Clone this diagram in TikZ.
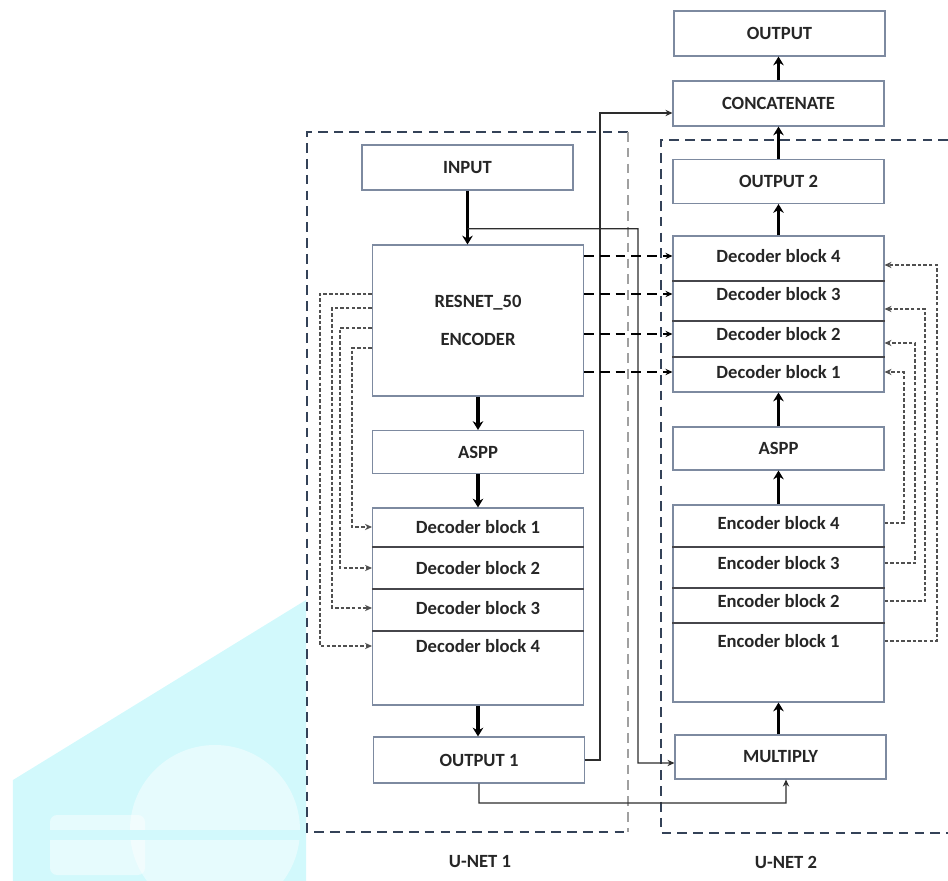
\documentclass[tikz,border=0pt]{standalone}
\usepackage{fontspec}
\setmainfont{Carlito}
\usetikzlibrary{arrows.meta, calc}

\definecolor{boxline}{RGB}{125,138,160}
\definecolor{divline}{RGB}{70,70,75}
\definecolor{txt}{RGB}{38,38,38}
\definecolor{routeline}{RGB}{45,45,45}
\definecolor{skipline}{RGB}{80,80,80}
\definecolor{frameline}{RGB}{52,66,88}
\definecolor{framelight}{RGB}{160,160,160}
\definecolor{wmark}{RGB}{210,249,252}

\begin{document}
\begin{tikzpicture}
            [>=Stealth, font=\fontsize{10.6}{12.7}\selectfont\bfseries,
             box/.style={rectangle, draw=boxline, line width=0.6pt, minimum width=4.22cm,
                         minimum height=0.9cm, inner sep=0pt, text=txt, align=center},
             lbl/.style={inner sep=0pt, text=txt},
             divider/.style={draw=divline, line width=0.8pt},
             thickarrow/.style={-{Stealth[length=5pt,width=6pt]}, line width=2.2pt, black},
             route/.style={draw=routeline, line width=0.7pt, -{Stealth[length=4pt,width=3.6pt]}},
             fwd/.style={draw=black, line width=0.8pt, dash pattern=on 5.5pt off 3.5pt,
                         -{Stealth[length=4pt,width=3.6pt]}},
             skip/.style={draw=skipline, line width=0.6pt, dash pattern=on 2pt off 1.2pt,
                          -{Stealth[length=4pt,width=3.6pt]}},
             frame/.style={draw=frameline, line width=1.3pt, dash pattern=on 5.5pt off 3.5pt}]
            \useasboundingbox (0,0) rectangle (18.96,-17.62);

            % faint mark in the lower left corner
            \fill[wmark] (0.26,-15.6) -- (6.12,-12.0) -- (6.12,-17.62) -- (0.26,-17.62) -- cycle;
            \begin{scope}
                \clip (0.26,-15.6) -- (6.12,-12.0) -- (6.12,-17.62) -- (0.26,-17.62) -- cycle;
                \fill[white, opacity=0.45, rounded corners=4pt] (1.0,-16.3) rectangle (2.9,-17.5);
                \fill[white, opacity=0.45] (4.3,-16.6) circle (1.7);
                \fill[wmark] (0.26,-16.6) rectangle (6.12,-16.8);
            \end{scope}

            % dashed frames of the two networks
            \draw[frame] (12.56,-2.64) -- (6.14,-2.64) -- (6.14,-16.64) -- (12.56,-16.64);
            \draw[frame, draw=framelight] (12.56,-2.64) -- (12.56,-16.64);
            \draw[frame] (18.96,-2.8) -- (13.22,-2.8) -- (13.22,-16.66) -- (18.96,-16.66);
            \node[lbl] (unet1) at (9.6,-17.24) {U-NET 1};
            \node[lbl] (unet2) at (15.72,-17.24) {U-NET 2};

            % U-NET 1
            \node[box] (input) at (9.35,-3.35) {INPUT};
            \node[box, minimum height=3.02cm] (resnet) at (9.56,-6.41) {RESNET\_50\\[9pt]ENCODER};
            \node[box, minimum height=0.86cm] (aspp1) at (9.56,-9.04) {ASPP};
            \node[box, minimum height=3.94cm] (decL) at (9.56,-12.13) {};
            \foreach \k/\y in {1/-10.54, 2/-11.36, 3/-12.16, 4/-12.92}
                \node[lbl] (dL\k) at (9.56,\y) {Decoder block \k};
            \foreach \y in {-10.94, -11.78, -12.62}
                \draw[divider] (decL.west |- 0,\y) -- (decL.east |- 0,\y);
            \node[box, minimum height=0.92cm] (output1) at (9.58,-15.2) {OUTPUT 1};

            % U-NET 2
            \node[box, minimum height=0.88cm] (multiply) at (15.61,-15.14) {MULTIPLY};
            \node[box, minimum height=3.94cm] (encR) at (15.57,-12.07) {};
            \foreach \k/\y in {4/-10.46, 3/-11.26, 2/-12.02, 1/-12.82}
                \node[lbl] (eR\k) at (15.57,\y) {Encoder block \k};
            \foreach \y in {-10.94, -11.76, -12.46}
                \draw[divider] (encR.west |- 0,\y) -- (encR.east |- 0,\y);
            \node[box, minimum height=0.86cm] (aspp2) at (15.57,-8.97) {ASPP};
            \node[box, minimum height=3.12cm] (decR) at (15.57,-6.28) {};
            \foreach \k/\y in {4/-5.12, 3/-5.88, 2/-6.68, 1/-7.44}
                \node[lbl] (dR\k) at (15.57,\y) {Decoder block \k};
            \foreach \y in {-5.62, -6.42, -7.14}
                \draw[divider] (decR.west |- 0,\y) -- (decR.east |- 0,\y);
            \node[box, minimum height=0.88cm] (output2) at (15.57,-3.63) {OUTPUT 2};

            % merging
            \node[box] (concat) at (15.57,-2.07) {CONCATENATE};
            \node[box] (output) at (15.59,-0.67) {OUTPUT};

            % main flow
            \draw[thickarrow] (input.south) -- (input.south |- resnet.north);
            \draw[thickarrow] (resnet.south) -- (aspp1.north);
            \draw[thickarrow] (aspp1.south) -- (decL.north);
            \draw[thickarrow] (decL.south) -- (decL.south |- output1.north);
            \draw[thickarrow] (encR.south |- multiply.north) -- (encR.south);
            \draw[thickarrow] (encR.north) -- (aspp2.south);
            \draw[thickarrow] (aspp2.north) -- (decR.south);
            \draw[thickarrow] (decR.north) -- (output2.south);
            \draw[thickarrow] (output2.north) -- (concat.south);
            \draw[thickarrow] (concat.north) -- (concat.north |- output.south);

            % input and first mask into the multiply block, mask into concatenate
            \coordinate (tap) at ($(input.south)!0.71!(input.south |- resnet.north)$);
            \draw[route] (tap) -| (12.76,-15.26) -- ([yshift=-0.12cm]multiply.west);
            \draw[route] (output1.east) -- (12.0,-15.2) |- ([yshift=-0.19cm]concat.west);
            \draw[route] (output1.south) |- (15.72,-16.06) -- ([xshift=0.11cm]multiply.south);

            % encoder features passed to the second decoder
            \foreach \k in {4,3,2,1}
                \draw[fwd] (resnet.east |- dR\k) -- (decR.west |- dR\k);

            % skip connections of U-NET 1
            \foreach \ya/\xv/\k in {-5.88/6.4/4, -6.16/6.64/3, -6.56/6.8/2, -6.96/7.04/1}
                \draw[skip] (resnet.west |- 0,\ya) -- (\xv,\ya) |- (decL.west |- dL\k);

            % skip connections of U-NET 2
            \foreach \k/\xv/\yb in {4/18.08/-7.44, 3/18.3/-6.86, 2/18.5/-6.18, 1/18.74/-5.3}
                \draw[skip] (encR.east |- eR\k) -| (\xv,\yb) -- (decR.east |- 0,\yb);
        \end{tikzpicture}
\end{document}
